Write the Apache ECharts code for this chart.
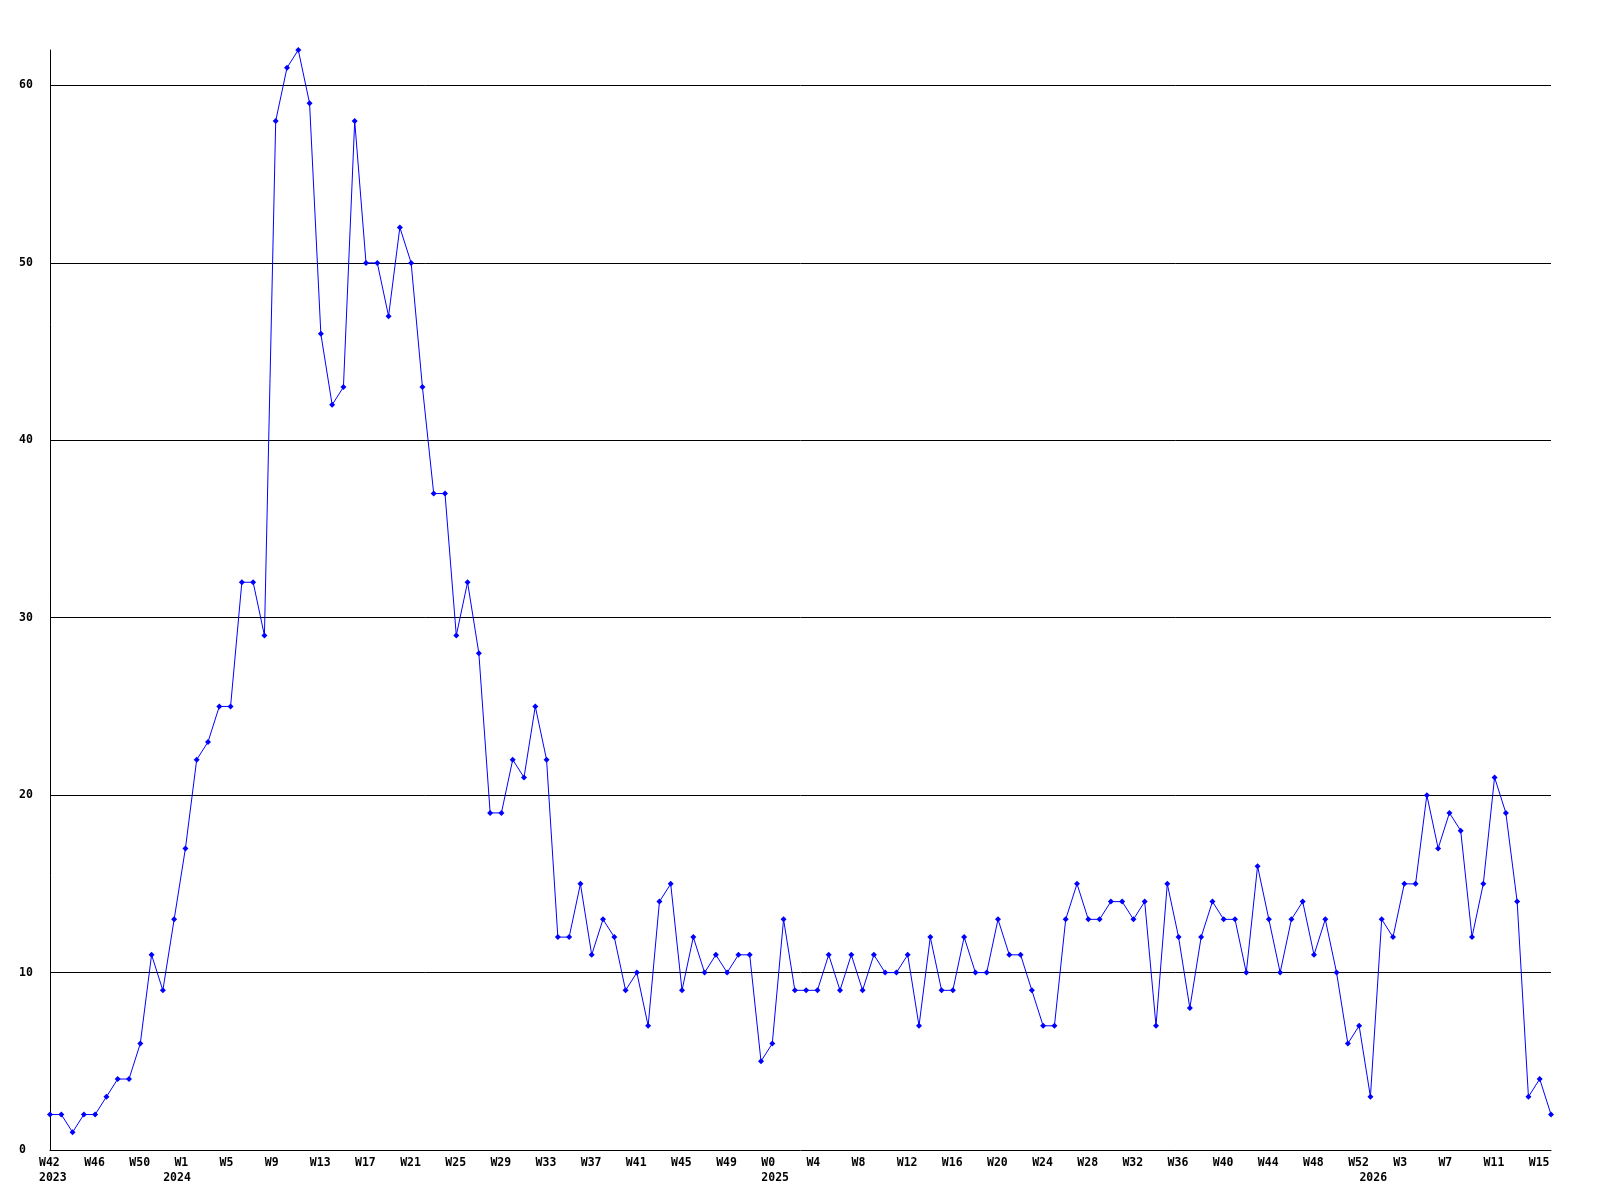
<!DOCTYPE html>
<html>
<head>
<meta charset="utf-8">
<script src="https://cdn.jsdelivr.net/npm/echarts@6/dist/echarts.min.js"></script>
<style>html,body{margin:0;padding:0;background:#fff}#c{width:1600px;height:1200px}</style>
</head>
<body>
<div id="c"></div>
<script>
const categories = [
  '2023 W42','2023 W43','2023 W44','2023 W45','2023 W46','2023 W47','2023 W48','2023 W49','2023 W50','2023 W51','2023 W52',
  '2024 W0','2024 W1','2024 W2','2024 W3','2024 W4','2024 W5','2024 W6','2024 W7','2024 W8','2024 W9','2024 W10',
  '2024 W11','2024 W12','2024 W13','2024 W14','2024 W15','2024 W16','2024 W17','2024 W18','2024 W19','2024 W20',
  '2024 W21','2024 W22','2024 W23','2024 W24','2024 W25','2024 W26','2024 W27','2024 W28','2024 W29','2024 W30',
  '2024 W31','2024 W32','2024 W33','2024 W34','2024 W35','2024 W36','2024 W37','2024 W38','2024 W39','2024 W40',
  '2024 W41','2024 W42','2024 W43','2024 W44','2024 W45','2024 W46','2024 W47','2024 W48','2024 W49','2024 W50',
  '2024 W51','2024 W52',
  '2025 W0','2025 W1','2025 W2','2025 W3','2025 W4','2025 W5','2025 W6','2025 W7','2025 W8','2025 W9','2025 W10',
  '2025 W11','2025 W12','2025 W13','2025 W14','2025 W15','2025 W16','2025 W17','2025 W18','2025 W19','2025 W20',
  '2025 W21','2025 W22','2025 W23','2025 W24','2025 W25','2025 W26','2025 W27','2025 W28','2025 W29','2025 W30',
  '2025 W31','2025 W32','2025 W33','2025 W34','2025 W35','2025 W36','2025 W37','2025 W38','2025 W39','2025 W40',
  '2025 W41','2025 W42','2025 W43','2025 W44','2025 W45','2025 W46','2025 W47','2025 W48','2025 W49','2025 W50',
  '2025 W51','2025 W52',
  '2026 W0','2026 W1','2026 W2','2026 W3','2026 W4','2026 W5','2026 W6','2026 W7','2026 W8','2026 W9','2026 W10',
  '2026 W11','2026 W12','2026 W13','2026 W14','2026 W15','2026 W16'
];

const values = [
  2,2,1,2,2,3,4,4,6,11,
  9,13,17,22,23,25,25,32,32,29,
  58,61,62,59,46,42,43,58,50,50,
  47,52,50,43,37,37,29,32,28,19,
  19,22,21,25,22,12,12,15,11,13,
  12,9,10,7,14,15,9,12,10,11,
  10,11,11,5,6,13,9,9,9,11,
  9,11,9,11,10,10,11,7,12,9,
  9,12,10,10,13,11,11,9,7,7,
  13,15,13,13,14,14,13,14,7,15,
  12,8,12,14,13,13,10,16,13,10,
  13,14,11,13,10,6,7,3,13,12,
  15,15,20,17,19,18,12,15,21,19,
  14,3,4,2
];

const yearLabelIndex = [0, 11, 64, 117];
const yearLabelText = ['2023', '2024', '2025', '2026'];
const yTickLabels = ['0', '10', '20', '30', '40', '50', '60'];

const font = { fontFamily: 'DejaVu Sans Mono', fontWeight: 'bold', fontSize: 11.5, color: '#000' };

const chart = echarts.init(document.getElementById('c'), null, { renderer: 'canvas' });
chart.setOption({
  animation: false,
  backgroundColor: '#fff',
  grid: [
    { left: 50, right: 49, top: 50, bottom: 50 },
    { left: 39, right: 60, top: 50, bottom: 50 }
  ],
  xAxis: [
    {
      type: 'category', gridIndex: 0, data: categories, boundaryGap: false,
      axisLine: { show: true, lineStyle: { color: '#000', width: 1 } },
      axisTick: { show: false }, axisLabel: { show: false }, splitLine: { show: false }
    },
    {
      type: 'category', gridIndex: 1, data: categories, boundaryGap: false,
      axisLine: { show: false }, axisTick: { show: false }, splitLine: { show: false },
      axisLabel: Object.assign({
        interval: 3, align: 'left', margin: 7,
        formatter: v => v.split(' ')[1]
      }, font)
    },
    {
      type: 'category', gridIndex: 1, data: categories, boundaryGap: false, position: 'bottom',
      axisLine: { show: false }, axisTick: { show: false }, splitLine: { show: false },
      axisLabel: Object.assign({
        interval: (i) => yearLabelIndex.indexOf(i) >= 0, align: 'left', margin: 22,
        formatter: (v, i) => {
          const k = yearLabelIndex.indexOf(i);
          return k >= 0 ? yearLabelText[k] : '';
        }
      }, font)
    }
  ],
  yAxis: [
    {
      type: 'value', gridIndex: 0, min: 0, max: 62, interval: 10,
      axisLine: { show: true, lineStyle: { color: '#000', width: 1 } },
      axisTick: { show: false },
      splitLine: { show: true, showMinLine: false, showMaxLine: false, lineStyle: { color: '#000', width: 1 } },
      axisLabel: Object.assign({
        align: 'left', margin: 31, showMaxLabel: false,
        formatter: v => (v % 10 === 0 ? yTickLabels[v / 10] : '')
      }, font)
    },
    { type: 'value', gridIndex: 1, min: 0, max: 62, show: false }
  ],
  series: [{
    type: 'line', xAxisIndex: 0, yAxisIndex: 0, data: values,
    showAllSymbol: true, symbol: 'diamond', symbolSize: 6,
    itemStyle: { color: '#0000ff' },
    lineStyle: { color: '#0000ff', width: 1 }
  }]
});
</script>
</body>
</html>
